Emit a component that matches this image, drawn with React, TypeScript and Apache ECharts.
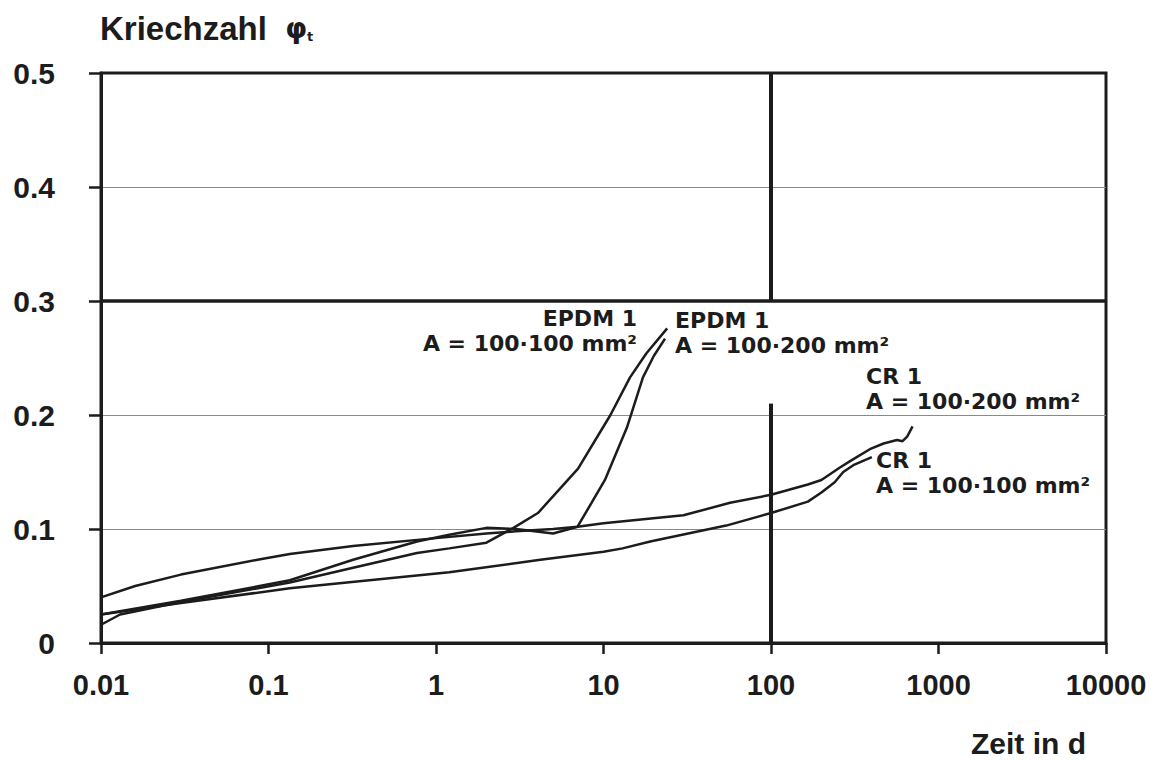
import React, { useEffect, useRef } from "react";
import * as echarts from "echarts";

const xTickLabels = ["0.01", "0.1", "1", "10", "100", "1000", "10000"];
const yTickLabels = ["0", "0.1", "0.2", "0.3", "0.4", "0.5"];

// CR 1, A = 100·200 mm²
const cr200T = [0.01, 0.016, 0.03, 0.086, 0.134, 0.32, 1, 2, 3, 5, 7, 10, 30, 57, 100, 166, 200, 258, 300, 389, 470, 565, 610, 650, 700];
const cr200V = [0.040, 0.050, 0.060, 0.073, 0.078, 0.085, 0.092, 0.096, 0.098, 0.100, 0.102, 0.105, 0.112, 0.123, 0.130, 0.139, 0.143, 0.154, 0.160, 0.170, 0.175, 0.178, 0.177, 0.181, 0.190];

// CR 1, A = 100·100 mm²
const cr100T = [0.01, 0.03, 0.134, 0.4, 1.2, 4.2, 10, 13, 19, 54, 100, 166, 200, 240, 270, 310, 400];
const cr100V = [0.025, 0.035, 0.048, 0.055, 0.062, 0.073, 0.080, 0.083, 0.089, 0.103, 0.114, 0.124, 0.132, 0.141, 0.150, 0.156, 0.163];

// EPDM 1, A = 100·100 mm²
const epdm100T = [0.01, 0.013, 0.03, 0.134, 0.32, 0.77, 1.2, 2.0, 2.9, 4.06, 7.05, 11, 14.4, 18, 24];
const epdm100V = [0.016, 0.025, 0.036, 0.053, 0.066, 0.079, 0.083, 0.088, 0.101, 0.114, 0.153, 0.200, 0.233, 0.254, 0.276];

// EPDM 1, A = 100·200 mm²
const epdm200T = [0.01, 0.03, 0.134, 0.32, 0.77, 1.2, 2.0, 3, 5, 7, 10.2, 13.8, 17.2, 20, 23.3];
const epdm200V = [0.025, 0.037, 0.055, 0.073, 0.089, 0.095, 0.101, 0.100, 0.096, 0.102, 0.143, 0.189, 0.233, 0.252, 0.267];

const INK = "#1c1c1c";
const FONT = "DejaVu Sans";
const WIDE = "'Liberation Sans', Arial, sans-serif";

export default function App() {
  const ref = useRef<HTMLDivElement>(null);
  useEffect(() => {
    const chart = echarts.init(ref.current!, null, { renderer: "svg" });
    const lineStyle = { color: INK, width: 2.5 };
    const mk = (name: string, t: number[], v: number[]) => ({
      type: "line",
      name,
      data: t.map((x, i) => [x, v[i]]),
      showSymbol: false,
      symbol: "none",
      lineStyle,
      z: 5,
    });
    const txt = (x: number, y: number, s: string, align: string = "left", size = 22, family = FONT) => ({
      type: "text",
      x,
      y,
      style: {
        text: s,
        fontFamily: family,
        fontSize: size,
        fontWeight: "bold",
        lineHeight: 25,
        fill: INK,
        align,
        verticalAlign: "top",
      },
      z: 10,
    });
    const s1: any = mk("CR 1 A = 100·200", cr200T, cr200V);
    s1.markLine = {
      silent: true,
      symbol: ["none", "none"],
      label: { show: false },
      lineStyle: { color: INK, width: 4, type: "solid" },
      data: [
        { yAxis: 0.3, lineStyle: { color: INK, width: 3.5, type: "solid" } },
        [{ coord: [100, 0.5] }, { coord: [100, 0.3] }],
        [{ coord: [100, 0.21] }, { coord: [100, 0] }],
      ],
    };
    chart.setOption({
      animation: false,
      backgroundColor: "#ffffff",
      grid: {
        left: 101,
        right: 49,
        top: 73,
        bottom: 118,
        outerBoundsMode: "none",
        containLabel: false,
        show: true,
        borderColor: INK,
        borderWidth: 3,
        backgroundColor: "transparent",
      },
      xAxis: {
        type: "log",
        logBase: 10,
        min: 0.01,
        max: 10000,
        axisLine: { show: true, lineStyle: { color: INK, width: 3 } },
        axisTick: { show: true, inside: false, length: 11, lineStyle: { color: INK, width: 2.5 } },
        minorTick: { show: false },
        splitLine: { show: false },
        axisLabel: {
          margin: 27,
          fontFamily: WIDE,
          fontSize: 29,
          fontWeight: "bold",
          color: INK,
          formatter: (v: number) => xTickLabels[Math.round(Math.log10(v)) + 2] ?? "",
        },
      },
      yAxis: {
        type: "value",
        min: 0,
        max: 0.5,
        interval: 0.1,
        axisLine: { show: true, lineStyle: { color: INK, width: 3 } },
        axisTick: { show: true, inside: false, length: 12, lineStyle: { color: INK, width: 2.5 } },
        splitLine: {
          show: true,
          lineStyle: {
            color: ["transparent", "#8a8a8a", "#8a8a8a", "transparent", "#8a8a8a", "transparent"],
            width: 1,
          },
        },
        axisLabel: {
          margin: 46,
          fontFamily: WIDE,
          fontSize: 30,
          fontWeight: "bold",
          color: INK,
          formatter: (v: number) => yTickLabels[Math.round(v * 10)] ?? "",
        },
      },
      graphic: [
        {
          type: "text",
          x: 100,
          y: 28,
          style: {
            text: "Kriechzahl  {p|φ}{s|t}",
            fontFamily: WIDE,
            fontSize: 33,
            fontWeight: "bold",
            fill: INK,
            verticalAlign: "middle",
            rich: {
              p: { fontFamily: FONT, fontSize: 28, fontWeight: "bold", fill: INK },
              s: { fontFamily: FONT, fontSize: 13, fontWeight: "bold", fill: INK, padding: [16, 0, 0, 0] },
            },
          },
        },
        {
          type: "text",
          x: 1086,
          y: 743,
          style: {
            text: "Zeit in d",
            fontFamily: WIDE,
            fontSize: 30,
            fontWeight: "bold",
            fill: INK,
            align: "right",
            verticalAlign: "middle",
          },
        },
        txt(637, 306, "EPDM 1\nA = 100·100 mm²", "right"),
        txt(675, 308, "EPDM 1\nA = 100·200 mm²"),
        txt(866, 364, "CR 1\nA = 100·200 mm²"),
        txt(876, 448, "CR 1\nA = 100·100 mm²"),
      ],
      series: [
        s1,
        mk("CR 1 A = 100·100", cr100T, cr100V),
        mk("EPDM 1 A = 100·100", epdm100T, epdm100V),
        mk("EPDM 1 A = 100·200", epdm200T, epdm200V),
      ],
    });
    return () => chart.dispose();
  }, []);
  return <div ref={ref} style={{ position: "fixed", left: 0, top: 0, width: 1155, height: 761 }} />;
}
